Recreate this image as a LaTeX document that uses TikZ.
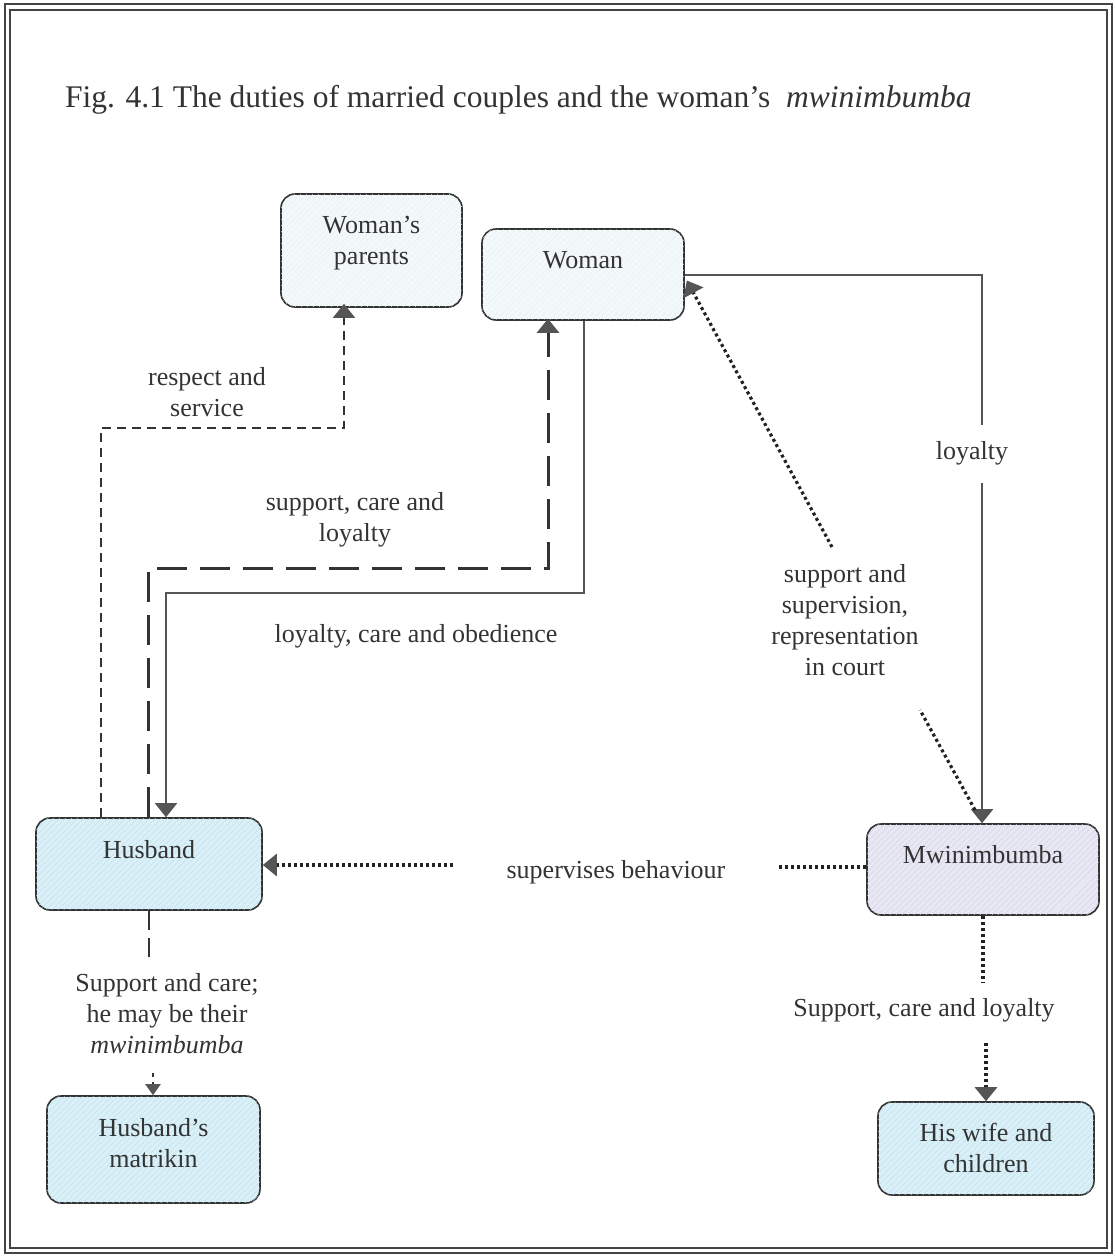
\documentclass[tikz,border=0pt]{standalone}
\usepackage{fontspec}
\setmainfont{Liberation Serif}
\usetikzlibrary{arrows.meta,patterns.meta,calc}
\definecolor{ink}{HTML}{333333}
\definecolor{framec}{HTML}{444444}
\definecolor{linec}{HTML}{555555}
\definecolor{dotc}{HTML}{222222}
\definecolor{arrowc}{HTML}{555555}
\definecolor{palefill}{HTML}{F3F8FB}
\definecolor{palehatch}{HTML}{E3ECF1}
\definecolor{bluefill}{HTML}{D9F0F8}
\definecolor{bluehatch}{HTML}{BFDCE7}
\definecolor{lavfill}{HTML}{E8E7F4}
\definecolor{lavhatch}{HTML}{CFCEE2}
\tikzset{
  box/.style={draw=ink, line width=1.6pt, rounded corners=14pt, inner sep=0pt},
  palebox/.style={box, fill=palefill, postaction={pattern={Lines[angle=45,distance=4pt,line width=0.4pt]}, pattern color=palehatch}},
  bluebox/.style={box, fill=bluefill, postaction={pattern={Lines[angle=45,distance=4pt,line width=0.5pt]}, pattern color=bluehatch}},
  lavbox/.style={box, fill=lavfill, postaction={pattern={Lines[angle=45,distance=4pt,line width=0.5pt]}, pattern color=lavhatch}},
  txt/.style={text=ink, font=\fontsize{26}{31}\selectfont, align=center, inner sep=0pt},
  bigtip/.style={-{Triangle[length=14pt,width=22pt,color=arrowc]}},
  smalltip/.style={-{Triangle[length=11pt,width=15pt,color=arrowc]}},
  thindash/.style={draw=ink, line width=1.4pt, dash pattern=on 9pt off 6pt},
  thickdash/.style={draw=ink, line width=3pt, dash pattern=on 30pt off 13pt},
  meddash/.style={draw=ink, line width=2.6pt, dash pattern=on 19pt off 8pt},
  solidline/.style={draw=linec, line width=2pt},
  dotline/.style={draw=dotc, line width=3.2pt, dash pattern=on 3pt off 3pt},
}
\begin{document}
\begin{tikzpicture}[x=1pt,y=-1pt]
\useasboundingbox (0,0) rectangle (1115,1256);
% frame
\draw[framec, line width=1.6pt] (5,4) rectangle (1112,1253);
\draw[framec, line width=1.8pt] (10,10) rectangle (1107,1248);
% title
\node[txt, font=\fontsize{31.5}{36}\selectfont, anchor=base west] (title) at (65,107)
  {Fig. 4.1 The duties of married couples and the woman's\ \ \textit{mwinimbumba}};
% boxes
\node[palebox, minimum width=181pt, minimum height=113pt] (parents) at (371.5,250.5) {};
\node[txt] (parentsT) at (371.5,243) {Woman's\\parents};
\node[palebox, minimum width=202pt, minimum height=91pt] (woman) at (583,274.5) {};
\node[txt] (womanT) at (583,260) {Woman};
\node[bluebox, minimum width=226pt, minimum height=92pt] (husband) at (149,864) {};
\node[txt] (husbandT) at (149,850) {Husband};
\node[bluebox, minimum width=213pt, minimum height=107pt] (matrikin) at (153.5,1149.5) {};
\node[txt] (matrikinT) at (153.5,1143) {Husband's\\matrikin};
\node[lavbox, minimum width=232pt, minimum height=91pt] (mwin) at (983,869.5) {};
\node[txt] (mwinT) at (983,855) {Mwinimbumba};
\node[bluebox, minimum width=216pt, minimum height=93pt] (wife) at (986,1148.5) {};
\node[txt] (wifeT) at (986,1148) {His wife and\\children};
% respect and service
\coordinate (r1) at (101,428);
\coordinate (r2) at (344,428);
\draw[thindash, bigtip, shorten >=-4pt] (husband.north -| r1) -- (r1) -- (r2) -- (parents.south -| r2);
\node[txt] (respectL) at (207,392) {respect and\\service};
% support, care and loyalty
\coordinate (s1) at (148,568);
\coordinate (s2) at (548,568);
\draw[thickdash, bigtip, shorten >=-2pt] (husband.north -| s1) -- (s1) -- (s2) -- (woman.south -| s2);
\node[txt] (supportL) at (355,520) {support, care and\\loyalty};
% loyalty, care and obedience
\coordinate (o1) at (584,593);
\coordinate (o2) at (166,593);
\draw[solidline, bigtip] (woman.south -| o1) -- (o1) -- (o2) -- (husband.north -| o2);
\node[txt] (obedL) at (416,636) {loyalty, care and obedience};
% loyalty to mwinimbumba
\coordinate (lg1) at (982,425);
\coordinate (lg2) at (982,483);
\draw[solidline] (woman.east) -| (lg1);
\draw[solidline, bigtip] (lg2) -- (mwin.north -| lg2);
\node[txt] (loyalL) at (972,453) {loyalty};
% support and supervision (dotted diagonal)
\coordinate (d1) at (975,810);
\coordinate (d2) at (920,710);
\coordinate (d3) at (832,547);
\coordinate (wc) at ($(woman.east)+(2,6)$);
\draw[dotline] (d1) -- (d2);
\draw[dotline, bigtip] (d3) -- (wc);
\node[txt] (supervL) at (845,620) {support and\\supervision,\\representation\\in court};
% supervises behaviour
\coordinate (sv1) at (778,867);
\coordinate (sv2) at (453,865);
\draw[dotline] (mwin.west |- sv1) -- (sv1);
\draw[dotline, bigtip] (sv2) -- (husband.east |- sv2);
\node[txt] (behavL) at (616,872) {supervises behaviour};
% husband to matrikin
\coordinate (m1) at (149,958);
\coordinate (m2) at (153,1073);
\draw[meddash] (husband.south) -- (m1);
\draw[draw=ink, line width=2pt, dash pattern=on 4pt off 5pt, smalltip] (m2) -- (matrikin.north -| m2);
\node[txt] (matrikinL) at (167,1014) {Support and care;\\he may be their\\\textit{mwinimbumba}};
% mwinimbumba to wife
\coordinate (w1) at (983,983);
\coordinate (w2) at (986,1043);
\draw[dotline] (mwin.south) -- (w1);
\draw[dotline, bigtip] (w2) -- (wife.north -| w2);
\node[txt] (wifeL) at (924,1010) {Support, care and loyalty};
\end{tikzpicture}
\end{document}
